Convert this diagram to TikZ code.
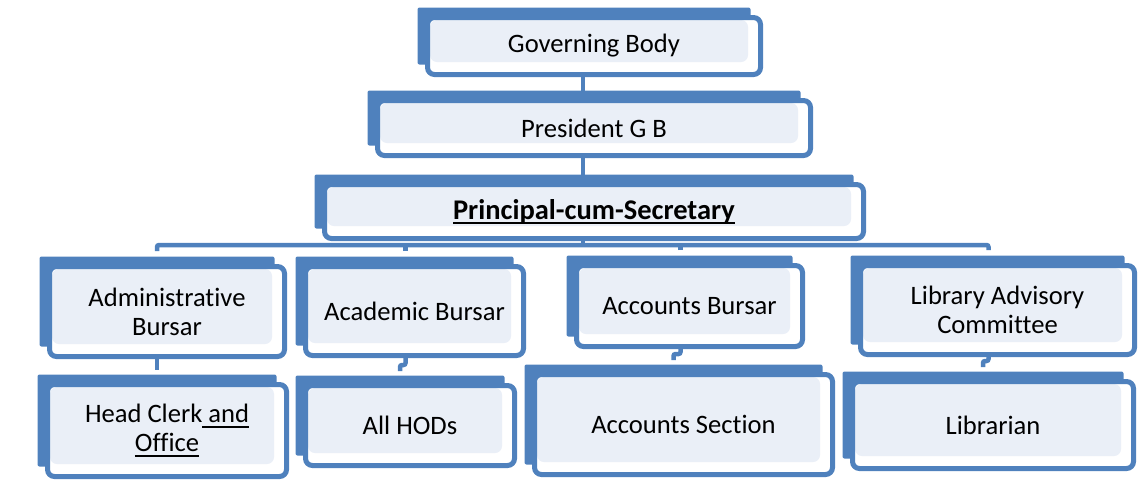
\documentclass[tikz,border=0pt]{standalone}
\usepackage{fontspec}
\setmainfont{Carlito}[Ligatures=NoCommon]
\usetikzlibrary{backgrounds}
\definecolor{boxblue}{RGB}{79,129,189}
\definecolor{boxfill}{RGB}{234,239,247}
\newcommand{\ulined}[1]{\leavevmode\setbox0\hbox{#1}\rlap{\vrule width \wd0 height -3pt depth 5pt}\box0}

\begin{document}
\begin{tikzpicture}[x=1pt, y=-1pt,
      every node/.append style={font=\fontsize{26.6}{29}\selectfont},
      link/.style={draw=boxblue, line width=4.5pt, rounded corners=2pt}]
    \tikzstyle{post} = [draw=boxblue, line width=5pt, rounded corners=7pt, fill=white,
      inner sep=0pt, align=center,
      path picture={\fill[boxfill] ([shift={(2.5pt,-2.5pt)}]path picture bounding box.north west)
        rectangle ([shift={(-12.5pt,12.5pt)}]path picture bounding box.south east);}]
    \useasboundingbox (0,0) rectangle (1145,480);
    \node [post, minimum width=333, minimum height=57] (GB) at (594,46) {Governing Body};
    \node [post, minimum width=433, minimum height=55] (pres) at (594,128) {President G B};
    \node [post, minimum width=539, minimum height=54] (prin) at (594,211.5)
      {\fontsize{28.5}{30}\selectfont\textbf{\ulined{Principal-cum-Secretary}}};
    \node [post, minimum width=235, minimum height=90] (admin) at (167,311.5) {Administrative\\Bursar};
    \node [post, minimum width=218, minimum height=89] (acad) at (414.5,311) {Academic Bursar};
    \node [post, minimum width=226, minimum height=81] (acct) at (689.5,306) {Accounts Bursar};
    \node [post, minimum width=274, minimum height=89] (lib) at (997.5,310) {Library Advisory\\Committee};
    \node [post, minimum width=239, minimum height=92] (clerk) at (167,430.5)
      {Head Clerk\ulined{\hspace{0.22em}and}\\\ulined{Office}};
    \node [post, minimum width=209, minimum height=80] (hods) at (410,425.5) {All HODs};
    \node [post, minimum width=298, minimum height=100] (sect) at (683.5,424.5) {Accounts Section};
    \node [post, minimum width=281, minimum height=87] (libr) at (993,425) {Librarian};
    \begin{pgfonlayer}{background}
      \foreach \n in {GB,pres,prin,admin,acad,acct,lib,clerk,hods,sect,libr}
        \fill [boxblue, rounded corners=2pt] ([shift={(-7.5pt,7.5pt)}]\n.north west)
          rectangle ([shift={(-12.5pt,12.5pt)}]\n.south east);
    \end{pgfonlayer}
    \coordinate (trunk) at (583,247);
    \draw [link] (GB.south -| trunk) -- (pres.north -| trunk);
    \draw [link] (pres.south -| trunk) -- (prin.north -| trunk);
    \draw [link] (prin.south -| trunk) -- (trunk);
    \draw [link] ([shift={(-10pt,13pt)}]admin.north) -- ++(0,-6) -| ([shift={(-9pt,13pt)}]lib.north);
    \draw [link] ([shift={(-9pt,13pt)}]acad.north) -- ++(0,-6);
    \draw [link] ([shift={(-9pt,13pt)}]acct.north) -- ++(0,-6);
    \draw [link] ([xshift=-10pt]admin.south) -- ([shift={(-10pt,12pt)}]clerk.north);
    \draw [link] ([xshift=-9pt]acad.south) |- ([shift={(-10pt,18pt)}]hods.north) -- ++(0,6);
    \draw [link] ([xshift=-9pt]acct.south) |- ([shift={(-10pt,18pt)}]sect.north) -- ++(0,6);
    \draw [link] ([xshift=-9pt]lib.south) |- ([shift={(-10pt,18pt)}]libr.north) -- ++(0,6);
\end{tikzpicture}
\end{document}
